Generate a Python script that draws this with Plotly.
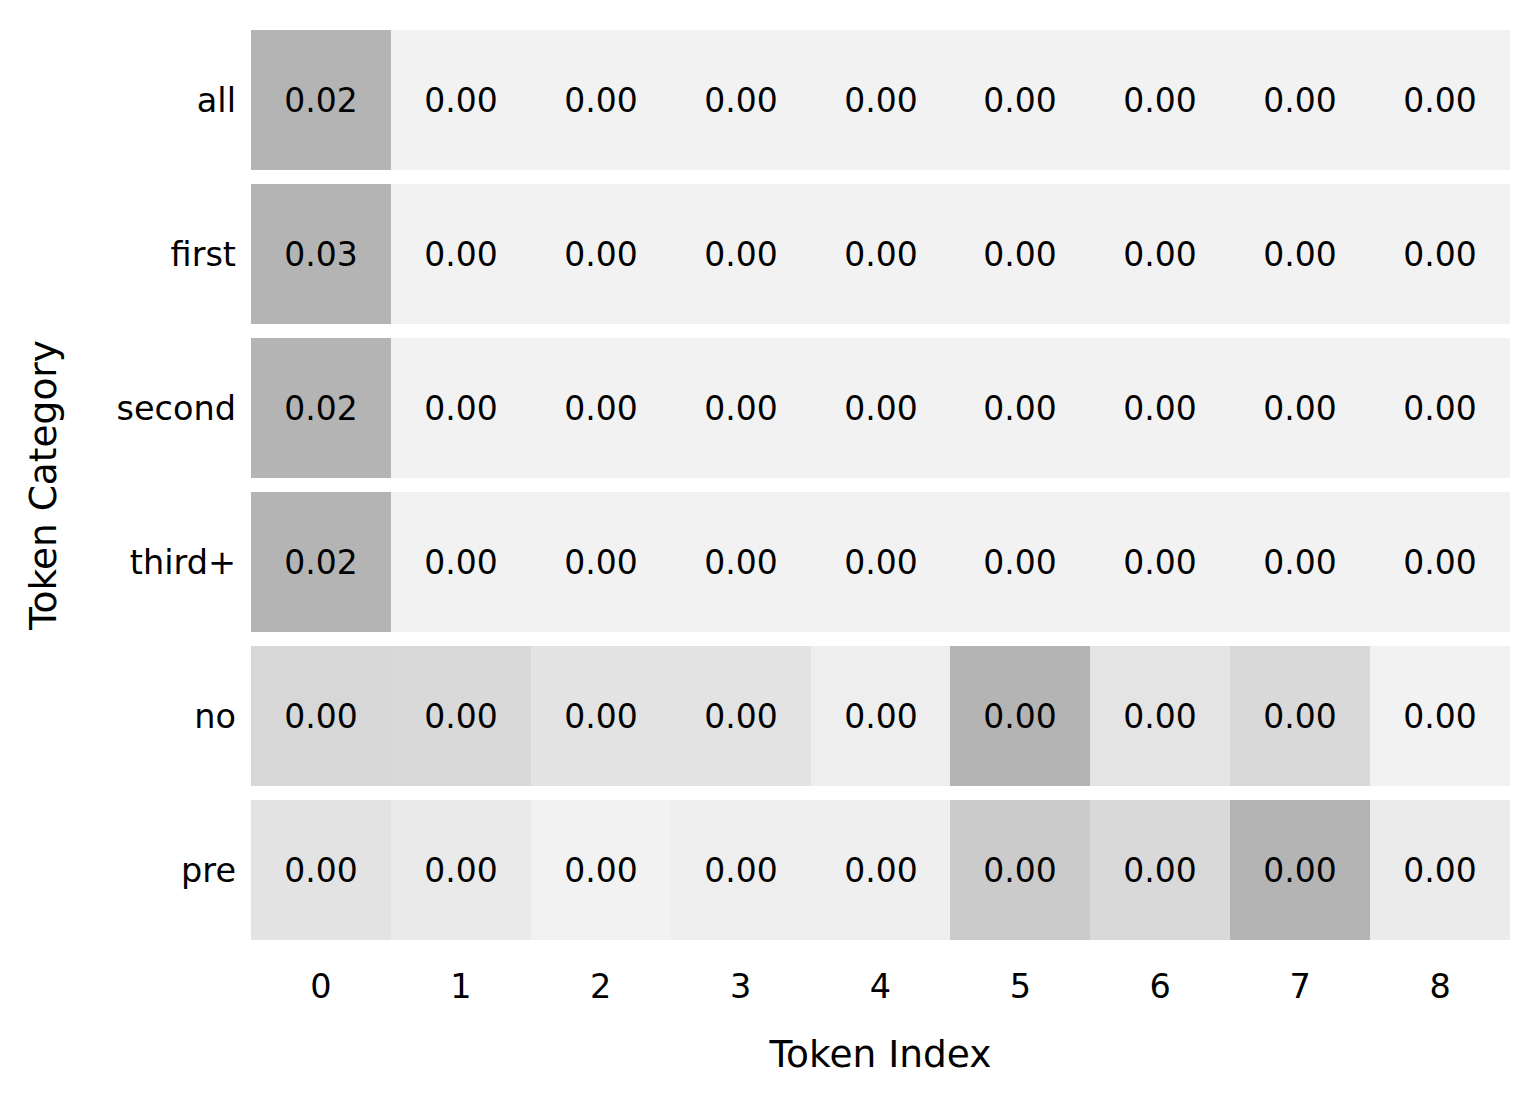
import plotly.graph_objects as go

categories = ["all", "first", "second", "third+", "no", "pre"]
token_index = [0, 1, 2, 3, 4, 5, 6, 7, 8]

row_all = [0.021, 0.0008, 0.0008, 0.0007, 0.0007, 0.0007, 0.0007, 0.0007, 0.0007]
row_first = [0.027, 0.0008, 0.0008, 0.0007, 0.0007, 0.0007, 0.0007, 0.0007, 0.0007]
row_second = [0.022, 0.0008, 0.0008, 0.0007, 0.0007, 0.0007, 0.0007, 0.0007, 0.0007]
row_third = [0.020, 0.0008, 0.0008, 0.0007, 0.0007, 0.0007, 0.0007, 0.0007, 0.0007]
row_no = [0.0022, 0.0021, 0.0016, 0.0016, 0.0010, 0.0040, 0.0015, 0.0021, 0.0008]
row_pre = [0.0015, 0.0010, 0.0005, 0.00075, 0.0007, 0.0030, 0.0021, 0.0045, 0.00095]

rows = [row_all, row_first, row_second, row_third, row_no, row_pre]

FONT = "DejaVu Sans"
colorscale = [[0, "#f2f2f2"], [1, "#b4b4b4"]]

fig = go.Figure()
for i, vals in enumerate(rows):
    fig.add_trace(go.Heatmap(
        x=token_index,
        y=[i],
        z=[vals],
        zmin=min(vals),
        zmax=max(vals),
        colorscale=colorscale,
        showscale=False,
        ygap=14,
        text=[[f"{v:.2f}" for v in vals]],
        texttemplate="%{text}",
        textfont=dict(family=FONT, size=33, color="black"),
        hoverinfo="skip",
    ))

fig.update_layout(
    width=1540,
    height=1106,
    margin=dict(l=243, r=38, t=15, b=167),
    paper_bgcolor="white",
    plot_bgcolor="white",
    font=dict(family=FONT, size=33, color="black"),
    showlegend=False,
)
fig.update_xaxes(
    range=[-0.5, 8.5],
    tickvals=token_index,
    ticktext=[str(t) for t in token_index],
    showgrid=False, zeroline=False, showline=False,
    ticks="", ticklabelstandoff=16,
    tickfont=dict(family=FONT, size=33.5),
    title=dict(text="Token Index", font=dict(family=FONT, size=37.5), standoff=36),
)
fig.update_yaxes(
    range=[5.5, -0.5],
    tickvals=list(range(len(categories))),
    ticktext=categories,
    showgrid=False, zeroline=False, showline=False,
    ticks="", ticklabelstandoff=14,
    tickfont=dict(family=FONT, size=33.5),
    title=dict(text="Token Category", font=dict(family=FONT, size=37.5), standoff=48),
)

fig.write_html("out.html")
